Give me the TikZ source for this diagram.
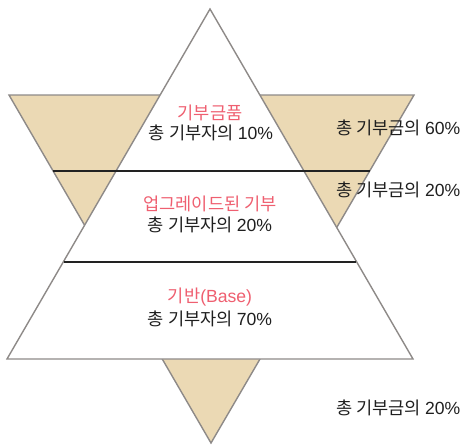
\documentclass[tikz,border=0pt]{standalone}
\usepackage{fontspec}
\setmainfont{Noto Sans CJK KR}
\newfontfamily\lat{Liberation Sans}
\definecolor{tanfill}{HTML}{EBD9B4}
\definecolor{edgegray}{HTML}{8E8A88}
\definecolor{pinktxt}{HTML}{EF5F70}
\definecolor{linedark}{HTML}{222222}
\begin{document}
\begin{tikzpicture}[x=1pt,y=-1pt,
  tri/.style={draw=edgegray,line width=1.4pt,line join=miter},
  band/.style={draw=linedark,line width=1.6pt},
  title/.style={text=pinktxt,font=\fontsize{17.6}{19}\selectfont,inner sep=0pt},
  body/.style={text=black!88,font=\fontsize{17.6}{19}\selectfont,inner sep=0pt},
  side/.style={text=black!88,font=\fontsize{17.6}{19}\selectfont,inner sep=0pt,anchor=west}]
\useasboundingbox (0,0) rectangle (467,445);
% inverted tan triangle
\coordinate (dl) at (9,95);
\coordinate (dr) at (414,95);
\coordinate (db) at (211,443);
\filldraw[tri,fill=tanfill] (dl) -- (dr) -- (db) -- cycle;
% upright white triangle
\coordinate (ut) at (210,9);
\coordinate (ul) at (7,359);
\coordinate (ur) at (413,359);
\filldraw[tri,fill=white] (ut) -- (ul) -- (ur) -- cycle;
% band lines
\coordinate (a1) at (53,171);
\coordinate (a2) at (370,171);
\coordinate (b1) at (64,262);
\coordinate (b2) at (356,262);
\draw[band] (a1) -- (a2);
\draw[band] (b1) -- (b2);
% texts
\node[title] (t1) at (210,113) {기부금품};
\node[body] (s1) at (211,133) {총 기부자의 {\lat 10\%}};
\node[title] (t2) at (210,204) {업그레이드된 기부};
\node[body] (s2) at (210,225) {총 기부자의 {\lat 20\%}};
\node[title] (t3) at (210,297) {기반{\lat (Base)}};
\node[body] (s3) at (210,319) {총 기부자의 {\lat 70\%}};
\node[side] (r1) at (336,128) {총 기부금의 {\lat 60\%}};
\node[side] (r2) at (336,190) {총 기부금의 {\lat 20\%}};
\node[side] (r3) at (336,408) {총 기부금의 {\lat 20\%}};
\end{tikzpicture}
\end{document}
